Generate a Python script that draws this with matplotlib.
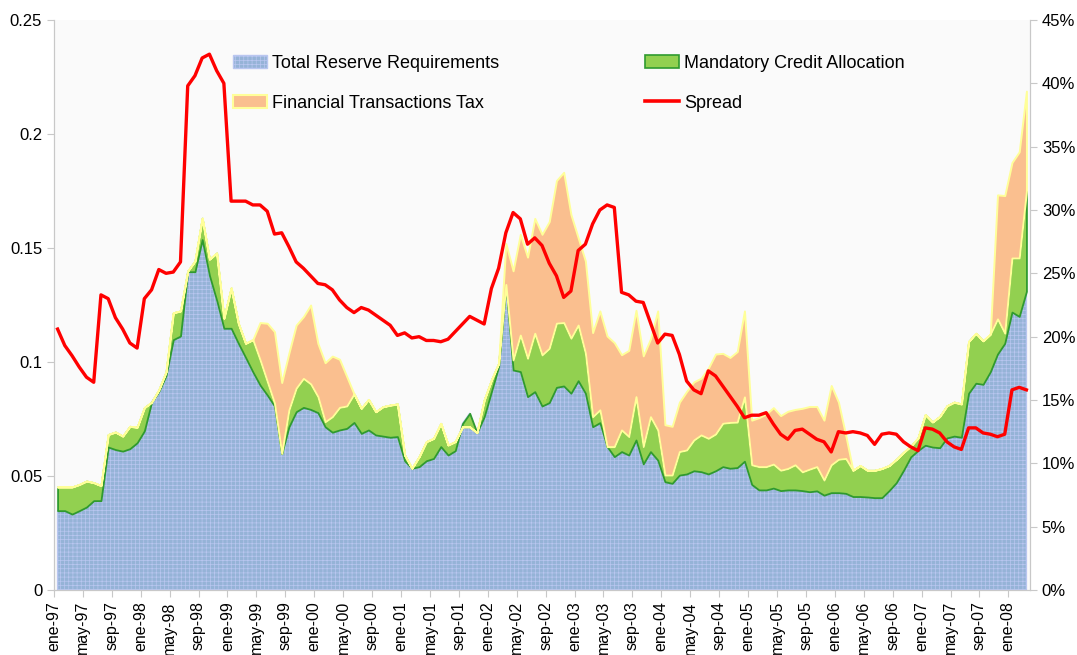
import numpy as np
import matplotlib.pyplot as plt
from matplotlib.patches import Patch
from matplotlib.lines import Line2D
from matplotlib.ticker import FuncFormatter

plt.rcParams['font.family'] = ['Liberation Sans', 'DejaVu Sans']
plt.rcParams['hatch.linewidth'] = 0.5

# monthly data, ene-97 .. mar-08
trr = [0.0348, 0.0348, 0.0333, 0.0348, 0.0364, 0.0392, 0.0392, 0.0627, 0.0616, 0.0609,
       0.0620, 0.0646, 0.0698, 0.0824, 0.0871, 0.0941, 0.1098, 0.1114, 0.1396, 0.1396,
       0.1537, 0.1380, 0.1271, 0.1148, 0.1148, 0.1082, 0.1020, 0.0957, 0.0899, 0.0855,
       0.0807, 0.0599, 0.0716, 0.0782, 0.0801, 0.0792, 0.0778, 0.0716, 0.0692, 0.0702,
       0.0709, 0.0735, 0.0687, 0.0702, 0.0680, 0.0675, 0.0670, 0.0673, 0.0567, 0.0534,
       0.0541, 0.0567, 0.0577, 0.0629, 0.0592, 0.0611, 0.0730, 0.0775, 0.0690, 0.0760,
       0.0870, 0.0980, 0.1340, 0.0965, 0.0958, 0.0848, 0.0870, 0.0807, 0.0822, 0.0889,
       0.0895, 0.0863, 0.0918, 0.0863, 0.0716, 0.0734, 0.0629, 0.0585, 0.0607, 0.0592,
       0.0658, 0.0553, 0.0607, 0.0570, 0.0475, 0.0468, 0.0504, 0.0509, 0.0523, 0.0519,
       0.0509, 0.0523, 0.0541, 0.0534, 0.0537, 0.0565, 0.0463, 0.0439, 0.0439, 0.0447,
       0.0436, 0.0439, 0.0439, 0.0436, 0.0431, 0.0435, 0.0416, 0.0427, 0.0427, 0.0424,
       0.0410, 0.0410, 0.0408, 0.0405, 0.0405, 0.0436, 0.0471, 0.0525, 0.0584, 0.0612,
       0.0635, 0.0627, 0.0624, 0.0667, 0.0675, 0.0670, 0.0863, 0.0907, 0.0902, 0.0957,
       0.1035, 0.1082, 0.1219, 0.1200, 0.1310]

mca = [0.0104, 0.0104, 0.0119, 0.0115, 0.0114, 0.0079, 0.0066, 0.0055, 0.0077, 0.0066,
       0.0098, 0.0068, 0.0102, 0.0000, 0.0007, 0.0016, 0.0118, 0.0110, 0.0003, 0.0047,
       0.0094, 0.0071, 0.0207, 0.0044, 0.0177, 0.0087, 0.0062, 0.0141, 0.0110, 0.0059,
       0.0012, 0.0000, 0.0074, 0.0103, 0.0127, 0.0112, 0.0070, 0.0022, 0.0068, 0.0099,
       0.0098, 0.0125, 0.0110, 0.0134, 0.0102, 0.0129, 0.0141, 0.0143, 0.0025, 0.0000,
       0.0044, 0.0084, 0.0088, 0.0102, 0.0044, 0.0040, -0.0014, -0.0059, 0.0000, 0.0073,
       0.0051, 0.0014, 0.0000, 0.0044, 0.0160, 0.0168, 0.0256, 0.0224, 0.0238, 0.0281,
       0.0278, 0.0241, 0.0244, 0.0175, 0.0044, 0.0056, 0.0000, 0.0044, 0.0095, 0.0081,
       0.0190, 0.0076, 0.0153, 0.0132, 0.0029, 0.0036, 0.0103, 0.0105, 0.0135, 0.0161,
       0.0156, 0.0161, 0.0190, 0.0201, 0.0199, 0.0282, 0.0086, 0.0102, 0.0102, 0.0105,
       0.0089, 0.0094, 0.0110, 0.0082, 0.0099, 0.0106, 0.0066, 0.0122, 0.0146, 0.0153,
       0.0115, 0.0136, 0.0117, 0.0120, 0.0128, 0.0110, 0.0102, 0.0079, 0.0047, 0.0055,
       0.0134, 0.0110, 0.0137, 0.0141, 0.0149, 0.0146, 0.0227, 0.0219, 0.0191, 0.0165,
       0.0154, 0.0044, 0.0237, 0.0256, 0.0439]

ftt = [0.0] * 28 + \
      [0.0164, 0.0256, 0.0314, 0.0311, 0.0250, 0.0277, 0.0271, 0.0346, 0.0234, 0.0259,
       0.0266, 0.0211, 0.0129] + [0.0] * 21 + \
      [0.0180, 0.0391, 0.0442, 0.0444, 0.0504, 0.0529, 0.0556, 0.0626, 0.0659, 0.0543,
       0.0383, 0.0405, 0.0369, 0.0434, 0.0485, 0.0456, 0.0330, 0.0378, 0.0379, 0.0398,
       0.0341, 0.0522, 0.0221, 0.0214, 0.0217, 0.0257, 0.0255, 0.0249, 0.0308, 0.0351,
       0.0307, 0.0285, 0.0310, 0.0377, 0.0196, 0.0215, 0.0231, 0.0248, 0.0240, 0.0251,
       0.0243, 0.0279, 0.0275, 0.0264, 0.0263, 0.0348, 0.0251, 0.0103] + [0.0] * 20 + \
      [0.0544, 0.0604, 0.0419, 0.0466, 0.0439]

spread = [20.6, 19.3, 18.5, 17.6, 16.8, 16.4, 23.3, 23.0, 21.5, 20.6,
          19.5, 19.1, 23.0, 23.7, 25.3, 25.0, 25.1, 25.9, 39.8, 40.6,
          42.0, 42.3, 41.0, 40.0, 30.7, 30.7, 30.7, 30.4, 30.4, 29.9,
          28.1, 28.2, 27.1, 25.9, 25.4, 24.8, 24.2, 24.1, 23.7, 22.9,
          22.3, 21.9, 22.3, 22.1, 21.7, 21.3, 20.9, 20.1, 20.3, 19.9,
          20.0, 19.7, 19.7, 19.6, 19.8, 20.4, 21.0, 21.6, 21.3, 21.0,
          23.8, 25.4, 28.2, 29.8, 29.3, 27.3, 27.8, 27.2, 25.8, 24.8,
          23.1, 23.6, 26.8, 27.3, 28.9, 30.0, 30.4, 30.2, 23.5, 23.3,
          22.8, 22.7, 21.1, 19.5, 20.2, 20.1, 18.6, 16.5, 15.8, 15.5,
          17.3, 16.9, 16.1, 15.3, 14.5, 13.6, 13.8, 13.8, 14.0, 13.1,
          12.3, 11.9, 12.6, 12.7, 12.3, 11.9, 11.7, 10.9, 12.5, 12.4,
          12.5, 12.4, 12.2, 11.5, 12.3, 12.4, 12.3, 11.7, 11.3, 11.0,
          12.8, 12.7, 12.4, 11.7, 11.3, 11.1, 12.8, 12.8, 12.4, 12.3,
          12.1, 12.3, 15.8, 16.0, 15.8]

tick_labels = ['ene-97', 'may-97', 'sep-97', 'ene-98', 'may-98', 'sep-98',
               'ene-99', 'may-99', 'sep-99', 'ene-00', 'may-00', 'sep-00',
               'ene-01', 'may-01', 'sep-01', 'ene-02', 'may-02', 'sep-02',
               'ene-03', 'may-03', 'sep-03', 'ene-04', 'may-04', 'sep-04',
               'ene-05', 'may-05', 'sep-05', 'ene-06', 'may-06', 'sep-06',
               'ene-07', 'may-07', 'sep-07', 'ene-08']

# colores
c_blue, e_blue = '#95b3d7', '#b9c6f0'
c_green, e_green = '#92d050', '#2f9a2f'
c_orange, e_orange = '#fabf8f', '#ffff99'
grid_col = '#c8c8c8'

x = np.arange(len(trr))
lvl1 = np.array(trr)
lvl2 = lvl1 + np.array(mca)
lvl3 = lvl2 + np.array(ftt)

fig = plt.figure(figsize=(10.77, 6.55), dpi=100)
ax = fig.add_axes([0.0501, 0.0992, 0.9063, 0.8703])
ax.set_facecolor('#fafafa')

# areas apiladas, una por una para controlar el borde
ax.fill_between(x, 0, lvl1, facecolor=c_blue, edgecolor=e_blue, lw=1.0, hatch='++++')
ax.fill_between(x, lvl1, lvl2, facecolor=c_green, edgecolor=e_green, lw=1.3)
ax.fill_between(x, lvl2, lvl3, facecolor=c_orange, edgecolor=e_orange, lw=1.4)

ax.set_xlim(-0.5, len(trr) - 0.5)
ax.set_ylim(0, 0.25)
ax.set_yticks(np.arange(0, 0.2501, 0.05))
ax.yaxis.set_major_formatter(FuncFormatter(lambda v, p: '%g' % round(v, 2)))
ax.set_xticks(np.arange(0, len(trr), 4) - 0.5)
ax.set_xticklabels(tick_labels, rotation=90, fontsize=11.5)
ax.tick_params(axis='y', labelsize=12, color=grid_col, length=5)
ax.tick_params(axis='x', color=grid_col, length=5, pad=3)

ax2 = ax.twinx()
ax2.plot(x, spread, color='#ff0000', lw=2.4, solid_joinstyle='round')
ax2.set_ylim(0, 45)
ax2.set_yticks(np.arange(0, 46, 5))
ax2.yaxis.set_major_formatter(FuncFormatter(lambda v, p: '%d%%' % v))
ax2.tick_params(axis='y', labelsize=12, color=grid_col, length=5)

for a in (ax, ax2):
    a.spines['top'].set_visible(False)
    for s in ('left', 'right', 'bottom'):
        a.spines[s].set_color(grid_col)
        a.spines[s].set_linewidth(0.8)

handles = [Patch(facecolor=c_blue, edgecolor=e_blue, hatch='++++'),
           Patch(facecolor=c_orange, edgecolor=e_orange, lw=1.5),
           Patch(facecolor=c_green, edgecolor=e_green, lw=1.2),
           Line2D([], [], color='#ff0000', lw=2.6)]
labels = ['Total Reserve Requirements', 'Financial Transactions Tax',
          'Mandatory Credit Allocation', 'Spread']
ax2.legend(handles, labels, ncol=2, frameon=False, fontsize=13,
           loc='upper left', bbox_to_anchor=(233 / 1077, 1 - 55 / 655),
           bbox_transform=fig.transFigure, borderpad=0, borderaxespad=0,
           handlelength=1.9, handletextpad=0.25, columnspacing=8.1,
           labelspacing=1.25)

fig.savefig('out.png', dpi=100)
